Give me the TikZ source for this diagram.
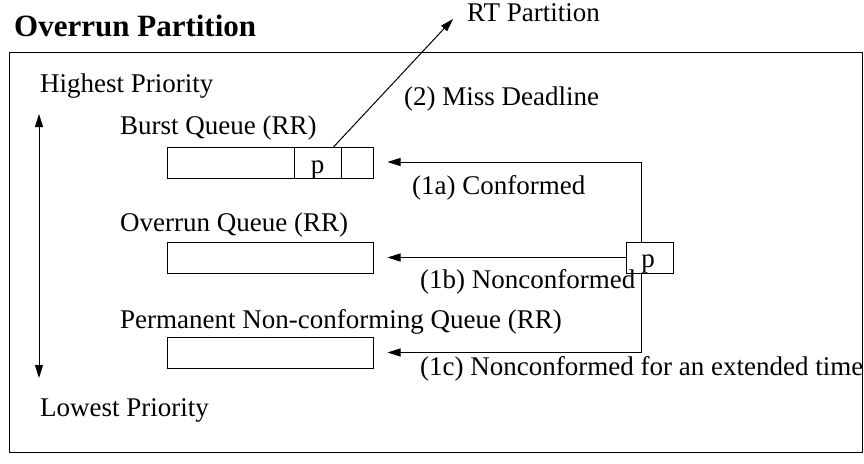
\documentclass[tikz,border=0pt]{standalone}
\usepackage{fontspec}
\setmainfont{Liberation Serif}
\usetikzlibrary{arrows.meta}
\begin{document}
\begin{tikzpicture}[x=1pt,y=-1pt,
  lbl/.style={anchor=base west,inner sep=0pt,font=\fontsize{27}{32}\selectfont},
  ttl/.style={anchor=base west,inner sep=0pt,font=\fontsize{31}{36}\selectfont\bfseries},
  qbox/.style={draw,line width=1pt,inner sep=0pt,minimum width=206pt,minimum height=31pt},
  cell/.style={draw,line width=1pt,inner sep=0pt,minimum width=47pt,minimum height=31pt,
    font=\fontsize{27}{32}\selectfont},
  ptxt/.style={inner sep=0pt,anchor=base,font=\fontsize{27}{32}\selectfont},
  tip/.tip={Triangle[length=13pt,width=8pt]},
  conn/.style={line width=1pt,-tip},
  frame/.style={draw,line width=1pt}]
\useasboundingbox (0,0) rectangle (864,463);

% frame and title
\draw[frame] (9,52) rectangle (862,452);
\node[ttl] (title) at (14,36) {Overrun Partition};

% priority labels
\node[lbl] (hp) at (40,92) {Highest Priority};
\node[lbl] (lp) at (40,416) {Lowest Priority};
\draw[line width=1pt,tip-tip] ([xshift=-1pt,yshift=-22pt]hp.base west) -- ([xshift=-1pt,yshift=38pt]lp.base west);

% queues
\node[lbl] (bql) at (120,134) {Burst Queue (RR)};
\node[qbox] (bq) at (270,163) {};
\node[cell] (pc) at (317.5,163) {};
\node[ptxt] (pct) at (317.5,173) {p};

\node[lbl] (oql) at (120,231) {Overrun Queue (RR)};
\node[qbox] (oq) at (270,257.5) {};

\node[lbl] (pql) at (120,328) {Permanent Non-conforming Queue (RR)};
\node[qbox] (pq) at (270,352.5) {};

% incoming packet
\node[cell] (pr) at (649.5,257.5) {};
\node[ptxt] (prt) at (648,267) {p};

% connectors
\draw[conn] ([xshift=-8.5pt]pr.north) |- ([xshift=14pt,yshift=1pt]bq.east);
\draw[conn] (pr.west) -- ([xshift=14pt]oq.east);
\draw[conn] ([xshift=-8.5pt]pr.south) |- ([xshift=14pt]pq.east);

\node[lbl] (rt) at (467,21) {RT Partition};
\draw[conn] ([xshift=16pt]pc.north) -- ([xshift=-14pt,yshift=2pt]rt.base west);

% edge labels
\node[lbl] (l2) at (404,105) {(2) Miss Deadline};
\node[lbl] (l1a) at (412,194) {(1a) Conformed};
\node[lbl] (l1b) at (420,288) {(1b) Nonconformed};
\node[lbl] (l1c) at (420,375) {(1c) Nonconformed for an extended time};
\end{tikzpicture}
\end{document}
